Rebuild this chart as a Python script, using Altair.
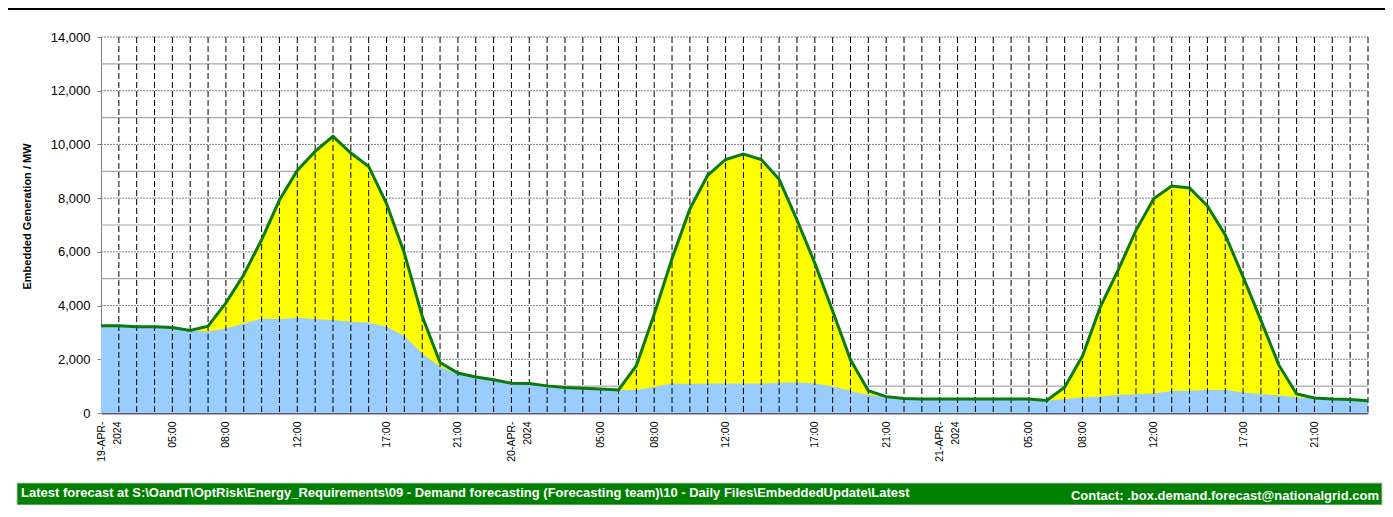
import json
import altair as alt
import pandas as pd

# hourly points (index along the x axis)
hours = list(range(72))

# total embedded generation (green line), MW
total = [3250, 3250, 3210, 3210, 3180, 3070, 3230, 4100, 5150, 6450,
         7930, 9030, 9740, 10300, 9680, 9180, 7800, 5950, 3600, 1880,
         1490, 1340, 1240, 1110, 1100, 1010, 950, 920, 890, 860,
         1760, 3680, 5750, 7600, 8850, 9440, 9640, 9440, 8700, 7190,
         5580, 3800, 1980, 830, 610, 540, 520, 520, 520, 520,
         520, 520, 520, 470, 960, 2120, 3950, 5320, 6800, 7990,
         8450, 8380, 7710, 6630, 5070, 3450, 1790, 710, 560, 520,
         500, 460]

# embedded wind (blue area), MW
wind = [3250, 3250, 3210, 3210, 3180, 3070, 3030, 3150, 3330, 3520,
        3490, 3550, 3500, 3460, 3400, 3360, 3210, 2870, 2220, 1720,
        1450, 1340, 1240, 1110, 1100, 1010, 950, 920, 890, 860,
        860, 980, 1100, 1080, 1100, 1100, 1100, 1100, 1130, 1140,
        1100, 1000, 820, 670, 600, 530, 510, 510, 510, 510,
        510, 510, 510, 460, 520, 580, 610, 670, 700, 730,
        820, 830, 860, 860, 760, 710, 650, 590, 540, 510,
        490, 450]

# x tick positions and their labels
tick_idx = [0, 4, 7, 11, 16, 20, 23, 28, 31, 35, 40, 44, 47, 52, 55, 59, 64, 68]
tick_text = [["19-APR-", "2024"], "05:00", "08:00", "12:00", "17:00", "21:00",
             ["20-APR-", "2024"], "05:00", "08:00", "12:00", "17:00", "21:00",
             ["21-APR-", "2024"], "05:00", "08:00", "12:00", "17:00", "21:00"]

y_ticks = [0, 2000, 4000, 6000, 8000, 10000, 12000, 14000]
grid_levels = [1000, 2000, 3000, 4000, 5000, 6000, 7000, 8000, 9000, 10000,
               11000, 12000, 13000, 14000]

banner_left = ("Latest forecast at S:\\OandT\\OptRisk\\Energy_Requirements\\09 - Demand "
               "forecasting (Forecasting team)\\10 - Daily Files\\EmbeddedUpdate\\Latest")
banner_right = "Contact: .box.demand.forecast@nationalgrid.com"

W, H = 1267, 376
FONT = "Liberation Sans"

df = pd.DataFrame({"idx": hours, "wind": wind, "total": total})
grid_df = pd.DataFrame({"level": grid_levels})

xscale = alt.Scale(domain=[0, 71], nice=False, zero=False)
yscale = alt.Scale(domain=[0, 14000], nice=False)

label_expr = f"{json.dumps(tick_text)}[indexof({json.dumps(tick_idx)}, datum.value)]"

x_axis = alt.Axis(values=tick_idx, labelExpr=label_expr, labelAngle=270,
                  labelFont=FONT, labelFontSize=10.5, labelLineHeight=16,
                  labelColor="black", ticks=False, grid=False,
                  domainColor="#606060", domainWidth=2, labelPadding=8,
                  labelOverlap=False, labelFlush=False, labelBound=False,
                  title=None)
y_axis = alt.Axis(values=y_ticks, format=",.0f", grid=False,
                  title="Embedded Generation / MW", titleFont=FONT,
                  titleFontWeight="bold", titleFontSize=11, titleColor="black",
                  titleAngle=270, titleX=-74, titleY=179, titleAlign="center",
                  titleBaseline="middle",
                  labelFont=FONT, labelFontSize=13, labelColor="black",
                  domainColor="#808080", tickColor="#808080", tickSize=4,
                  labelPadding=7)

X = alt.X("idx:Q", scale=xscale, axis=x_axis)

base = alt.Chart(df)

grid_even = alt.Chart(grid_df).transform_filter("datum.level % 2000 == 0").mark_rule(
    color="#808080", strokeDash=[2, 1], strokeWidth=1
).encode(y=alt.Y("level:Q", scale=yscale, axis=y_axis), x=alt.value(0), x2=alt.value(W))

grid_odd = alt.Chart(grid_df).transform_filter("datum.level % 2000 != 0").mark_rule(
    color="#a6a6a6", strokeWidth=1.2
).encode(y=alt.Y("level:Q", scale=yscale, axis=y_axis), x=alt.value(0), x2=alt.value(W))

yellow = base.mark_area(color="#FFFF00", opacity=1).encode(
    x=X,
    y=alt.Y("total:Q", scale=yscale, axis=y_axis, stack=None),
)

blue = base.mark_area(color="#99CCFF", opacity=1).encode(
    x=X,
    y=alt.Y("wind:Q", scale=yscale, axis=y_axis, stack=None),
)

vlines = base.transform_filter("datum.idx > 0").mark_rule(
    color="black", strokeDash=[6, 3], strokeWidth=1
).encode(x=X, y=alt.value(0), y2=alt.value(H))

line = base.mark_line(color="#0a7a0a", strokeWidth=3).encode(
    x=X,
    y=alt.Y("total:Q", scale=yscale, axis=y_axis),
)

one = pd.DataFrame({"left": [banner_left], "right": [banner_right]})

banner = alt.Chart(one).mark_rect(color="#008000", stroke="#c0c0c0", strokeWidth=1).encode(
    x=alt.value(-84), x2=alt.value(1281), y=alt.value(446), y2=alt.value(468)
)
banner_l = alt.Chart(one).mark_text(
    align="left", baseline="alphabetic", color="white", font=FONT,
    fontWeight="bold", fontSize=13
).encode(x=alt.value(-80), y=alt.value(460), text="left:N")
banner_r = alt.Chart(one).mark_text(
    align="right", baseline="alphabetic", color="white", font=FONT,
    fontWeight="bold", fontSize=13
).encode(x=alt.value(1278), y=alt.value(463), text="right:N")

top_bar = alt.Chart(one).mark_rect(color="black").encode(
    x=alt.value(-93), x2=alt.value(1284), y=alt.value(-29), y2=alt.value(-27)
)

chart = alt.layer(
    grid_odd, grid_even, yellow, blue, vlines, line, banner, banner_l, banner_r, top_bar
).properties(
    width=W, height=H,
    autosize=alt.AutoSizeParams(type="none"),
    padding={"left": 93, "top": 29, "right": 17, "bottom": 92},
    background="white",
).configure_view(stroke=None)

chart.save("out.html", embed_options={"renderer": "svg", "actions": False})
